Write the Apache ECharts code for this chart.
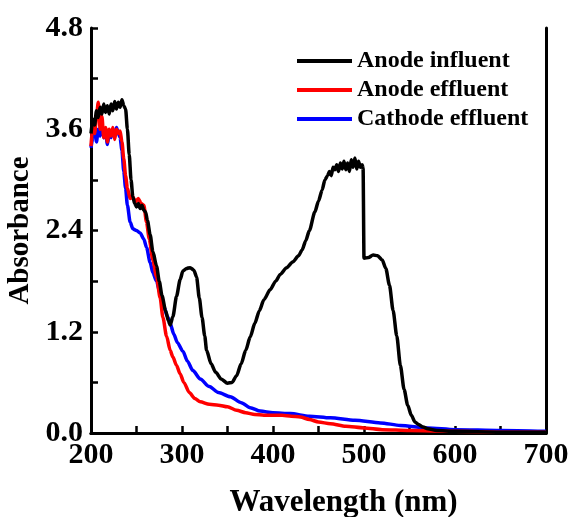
<!DOCTYPE html>
<html>
<head>
<meta charset="utf-8">
<script src="https://cdn.jsdelivr.net/npm/echarts@6/dist/echarts.min.js"></script>
<style>html,body{margin:0;padding:0;background:#fff}#c{width:572px;height:517px}</style>
</head>
<body>
<div id="c"></div>
<script>
const seriesNames = ['Anode influent', 'Anode effluent', 'Cathode effluent'];
const xTicks = [200, 300, 400, 500, 600, 700];
const yTicks = [0.0, 1.2, 2.4, 3.6, 4.8];

const influentX = [200,202,204,206,208,210,212,214,216,218,220,222,224,226,228,230,232,234,236,238,240,242,244,246,248,250,252,254,256,258,260,262,265,268,272,275,278,282,285,287,290,294,298,301,305,309,313,316,319,322,325,327,332,337,343,350,355,360,365,370,375,380,385,390,397,403,408,415,422,428,432,436,440,446,450,454,457,460,462,464,466,468,470,472,474,476,478,480,482,484,486,488,490,492,494,496,498,499,500,505,510,515,520,524,528,532,536,540,544,548,552,556,560,565,570,580,600,650,700];
const influentY = [3.55,3.72,3.65,3.82,3.74,3.86,3.78,3.9,3.8,3.88,3.78,3.9,3.82,3.93,3.84,3.92,3.86,3.95,3.88,3.84,3.6,3.3,3.0,2.8,2.72,2.68,2.72,2.66,2.7,2.64,2.62,2.52,2.35,2.15,1.98,1.8,1.63,1.45,1.33,1.28,1.38,1.62,1.82,1.92,1.95,1.96,1.93,1.85,1.6,1.37,1.15,0.98,0.82,0.72,0.64,0.59,0.6,0.68,0.82,0.98,1.14,1.3,1.45,1.58,1.7,1.8,1.88,1.96,2.03,2.1,2.17,2.28,2.4,2.62,2.75,2.88,3.0,3.05,3.1,3.05,3.15,3.12,3.18,3.1,3.2,3.13,3.22,3.12,3.2,3.1,3.24,3.15,3.26,3.13,3.22,3.15,3.18,3.14,2.07,2.08,2.11,2.1,2.05,1.95,1.75,1.45,1.15,0.8,0.52,0.33,0.21,0.13,0.1,0.07,0.05,0.03,0.02,0.01,0.01];

const anodeEffX = [200,202,204,206,208,210,212,214,216,218,220,222,224,226,228,230,232,234,236,238,240,243,246,249,252,255,258,261,264,268,272,276,279,283,287,290,294,298,302,308,314,320,330,340,350,360,370,380,390,400,410,420,430,440,450,463,480,500,520,550,600,650,700];
const anodeEffY = [3.4,3.65,3.55,3.75,3.92,3.6,3.75,3.5,3.62,3.45,3.6,3.52,3.62,3.48,3.6,3.55,3.58,3.45,3.25,3.05,2.9,2.78,2.8,2.74,2.78,2.72,2.7,2.5,2.3,2.05,1.85,1.6,1.37,1.15,0.98,0.9,0.8,0.7,0.6,0.48,0.41,0.37,0.34,0.33,0.31,0.27,0.24,0.22,0.21,0.21,0.21,0.2,0.19,0.16,0.13,0.11,0.08,0.06,0.04,0.03,0.02,0.01,0.01];

const cathodeEffX = [200,202,204,206,208,210,212,214,216,218,220,222,224,226,228,230,232,234,236,238,240,243,246,250,254,258,261,265,268,272,276,280,284,287,291,295,301,306,312,320,330,340,353,365,375,386,400,419,440,463,490,518,540,570,600,650,700];
const cathodeEffY = [3.38,3.5,3.62,3.45,3.6,3.52,3.64,3.5,3.58,3.42,3.55,3.5,3.6,3.52,3.62,3.55,3.5,3.35,3.1,2.9,2.7,2.5,2.42,2.4,2.37,2.3,2.2,2.02,1.9,1.8,1.65,1.5,1.38,1.3,1.17,1.07,0.97,0.85,0.74,0.64,0.55,0.48,0.43,0.36,0.3,0.26,0.24,0.23,0.2,0.18,0.15,0.12,0.09,0.06,0.04,0.03,0.02];

const colors = ['#000000', '#ff0000', '#0000ff'];
const pair = (xs, ys) => xs.map((x, i) => [x, ys[i]]);
const dataSets = [pair(influentX, influentY), pair(anodeEffX, anodeEffY), pair(cathodeEffX, cathodeEffY)];

const font = 'Liberation Serif, Times New Roman, serif';
const chart = echarts.init(document.getElementById('c'), null, {renderer: 'canvas'});
chart.setOption({
  animation: false,
  backgroundColor: '#fff',
  grid: {left: 91, right: 26, top: 28, bottom: 84, outerBoundsMode: 'none', containLabel: false},
  legend: {
    orient: 'vertical', left: 292, top: 44,
    itemWidth: 55, itemHeight: 4, itemGap: 5,
    icon: 'rect',
    textStyle: {fontFamily: font, fontWeight: 'bold', fontSize: 24, color: '#000', lineHeight: 24},
    data: seriesNames
  },
  xAxis: [{
    type: 'value', min: 200, max: 700, interval: 100,
    name: 'Wavelength (nm)', nameLocation: 'middle', nameGap: 54,
    nameTextStyle: {fontFamily: font, fontWeight: 'bold', fontSize: 31, color: '#000', padding: [0, 0, 0, 50]},
    axisLine: {show: true, onZero: false, lineStyle: {color: '#000', width: 3}},
    axisTick: {show: true, inside: true, length: 7, lineStyle: {width: 2.5}},
    minorTick: {show: true, splitNumber: 2, length: 7, lineStyle: {color: '#000', width: 2.5}},
    axisLabel: {fontFamily: font, fontWeight: 'bold', fontSize: 30, color: '#000', margin: 7,
      formatter: v => xTicks.includes(v) ? String(v) : ''},
    splitLine: {show: false}
  }, {
    type: 'value', position: 'top', min: 200, max: 700,
    axisLine: {show: true, lineStyle: {color: '#000', width: 3}},
    axisTick: {show: false}, axisLabel: {show: false}, splitLine: {show: false}
  }],
  yAxis: [{
    type: 'value', min: 0, max: 4.8, interval: 1.2,
    name: 'Absorbance', nameLocation: 'middle', nameGap: 54, nameRotate: 90,
    nameTextStyle: {fontFamily: font, fontWeight: 'bold', fontSize: 29, color: '#000'},
    axisLine: {show: true, onZero: false, lineStyle: {color: '#000', width: 3}},
    axisTick: {show: true, inside: true, length: 7, lineStyle: {width: 2.5}},
    minorTick: {show: true, splitNumber: 2, length: 7, lineStyle: {color: '#000', width: 2.5}},
    axisLabel: {fontFamily: font, fontWeight: 'bold', fontSize: 30, color: '#000', margin: 8,
      formatter: v => yTicks.some(t => Math.abs(t - v) < 1e-6) ? v.toFixed(1) : ''},
    splitLine: {show: false}
  }, {
    type: 'value', position: 'right', min: 0, max: 4.8,
    axisLine: {show: true, lineStyle: {color: '#000', width: 3}},
    axisTick: {show: false}, axisLabel: {show: false}, splitLine: {show: false}
  }],
  series: seriesNames.map((n, i) => ({
    name: n, type: 'line', data: dataSets[i], showSymbol: false, symbol: 'none',
    smooth: 0.25, smoothMonotone: 'x',
    lineStyle: {color: colors[i], width: 3.5}, itemStyle: {color: colors[i]},
    z: 3 - i
  }))
});
</script>
</body>
</html>
